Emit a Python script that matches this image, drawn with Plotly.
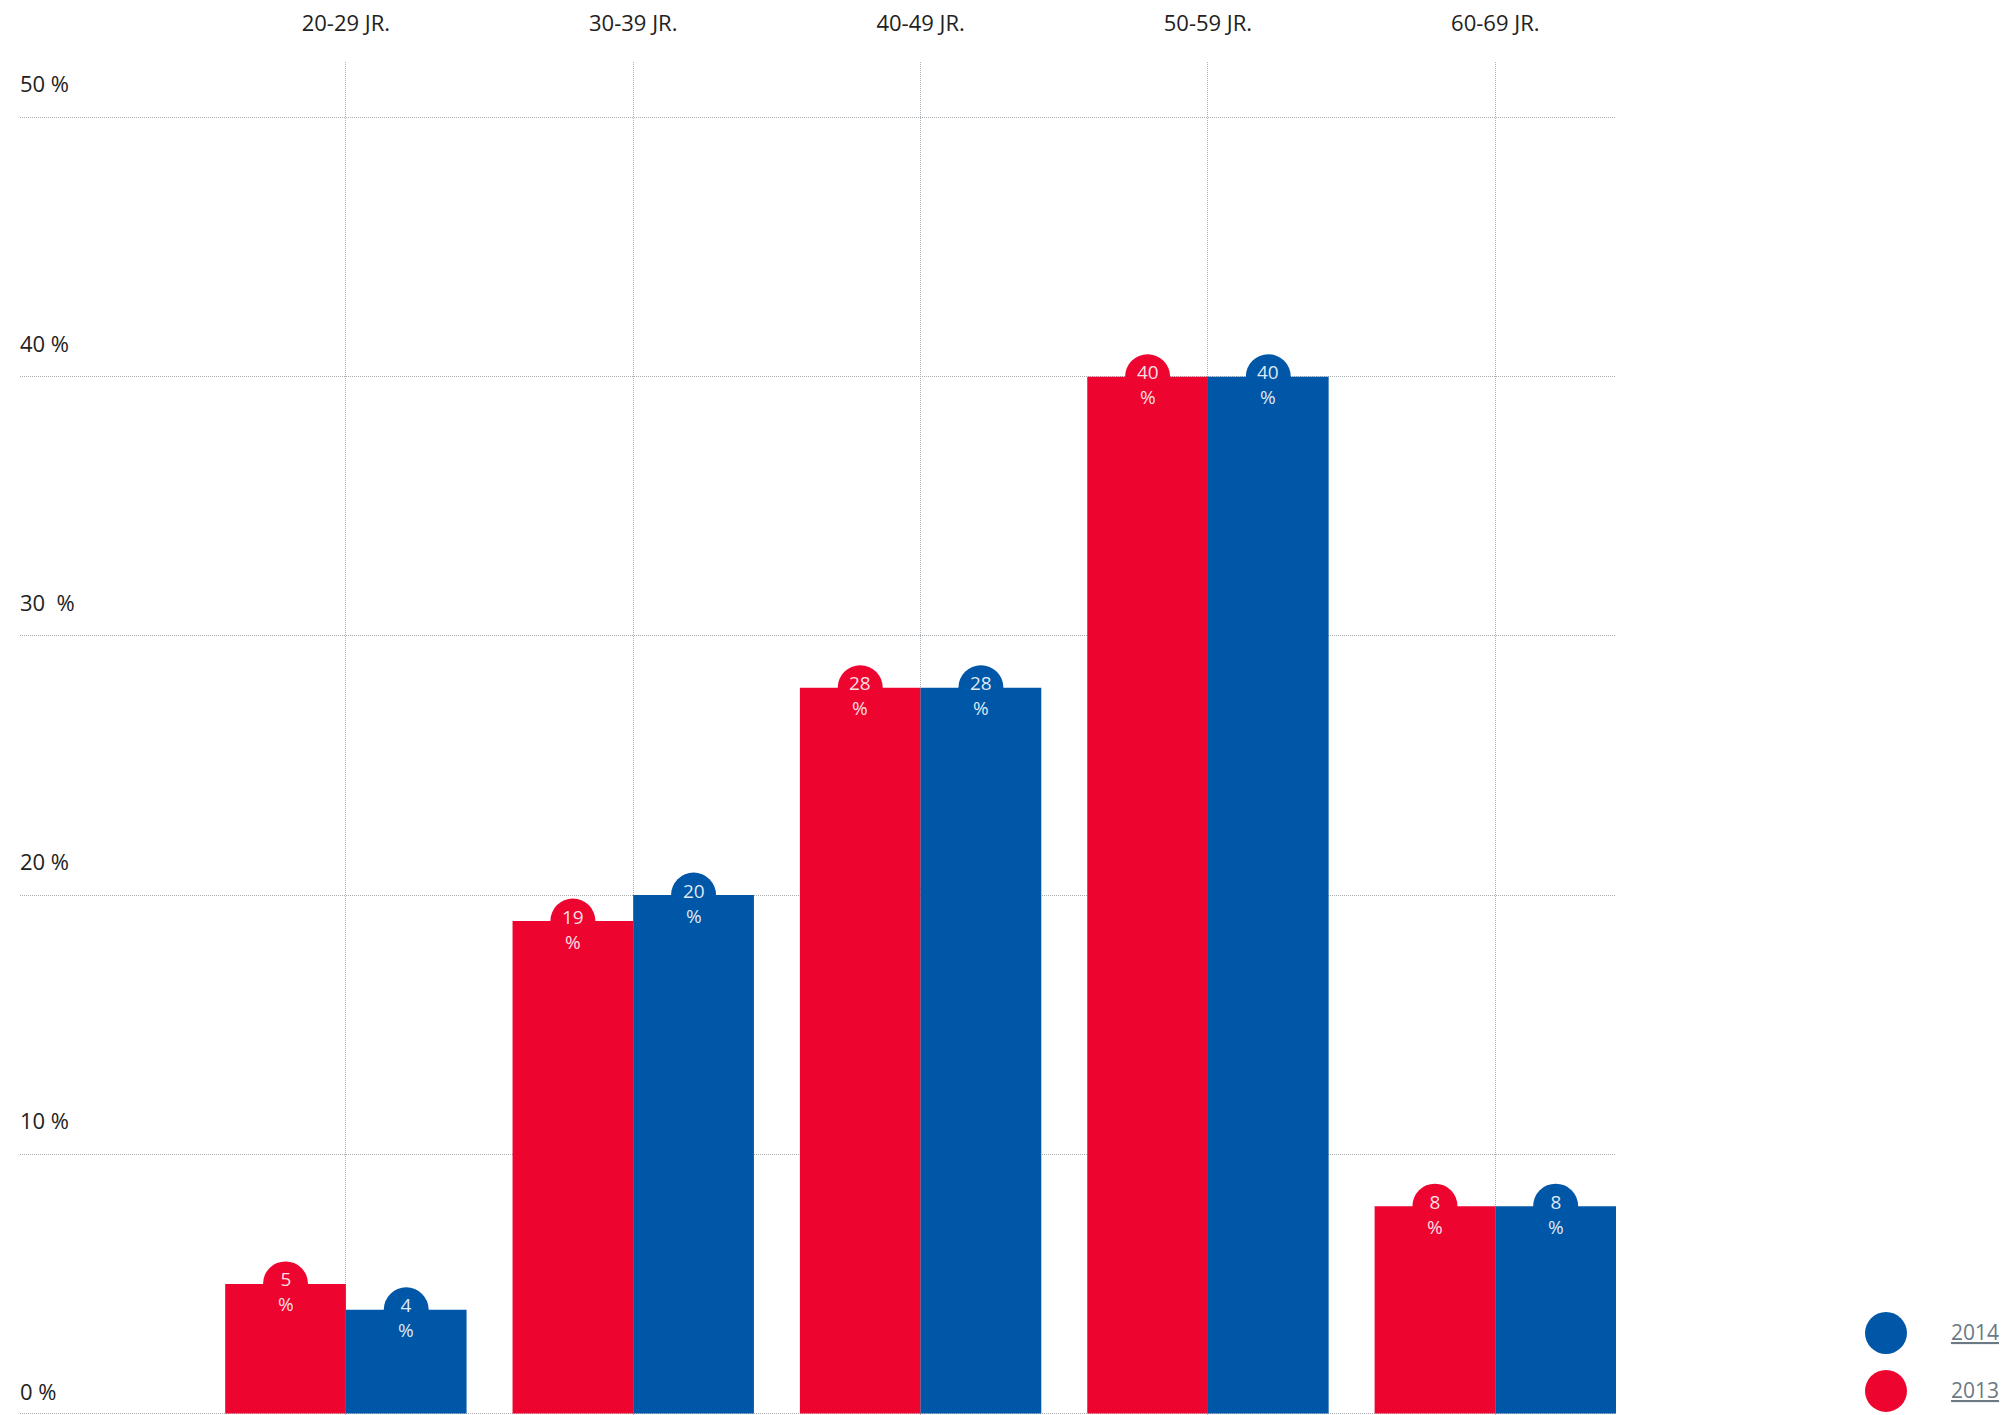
import plotly.graph_objects as go

# ---- data ----
categories = ["20-29 JR.", "30-39 JR.", "40-49 JR.", "50-59 JR.", "60-69 JR."]
values_2013 = [5, 19, 28, 40, 8]
values_2014 = [4, 20, 28, 40, 8]
series_names = ["2013", "2014"]
y_ticks = [0, 10, 20, 30, 40, 50]
y_tick_labels = ["0 %", "10 %", "20 %", "30\u00a0\u00a0%", "40 %", "50 %"]

RED = "#ED0530"
BLUE = "#0057A7"
FONT = "Open Sans"
BAR_W = 0.42
GRID = "#A9AEB3"

xpos = list(range(len(categories)))

fig = go.Figure()

series = [(series_names[0], values_2013, RED, -BAR_W), (series_names[1], values_2014, BLUE, 0.0)]
for name, vals, col, off in series:
    fig.add_trace(go.Bar(
        x=xpos, y=vals, name=name, width=BAR_W, offset=off,
        marker=dict(color=col, line=dict(width=0)),
        showlegend=False, hoverinfo="skip",
    ))

# bubbles at the top of every bar
for name, vals, col, off in series:
    cx = [x + off + BAR_W / 2 for x in xpos]
    fig.add_trace(go.Scatter(
        x=cx, y=vals, mode="markers",
        marker=dict(size=45, color=col, line=dict(width=0)),
        showlegend=False, hoverinfo="skip", cliponaxis=False,
    ))
    for x, v in zip(cx, vals):
        fig.add_annotation(
            x=x, y=v, xref="x", yref="y", text=f"{v}<br>%", showarrow=False,
            xanchor="center", yanchor="middle", yshift=-8,
            font=dict(family=FONT, size=19, color="rgba(255,255,255,0.88)"),
        )

# y-axis labels sitting above their gridlines
for t, lab in zip(y_ticks, y_tick_labels):
    fig.add_annotation(
        x=0, y=t, xref="paper", yref="y", text=lab, showarrow=False,
        xanchor="left", yanchor="middle", xshift=-2,
        yshift=23 if t == 0 else 34,
        font=dict(family=FONT, size=22, color="#222222"),
    )

# custom legend (large circles + underlined labels)
legend_items = [(series_names[1], BLUE, 0.0606), (series_names[0], RED, 0.0178)]
for name, col, yp in legend_items:
    fig.add_shape(
        type="circle", xref="paper", yref="paper", xsizemode="pixel", ysizemode="pixel",
        xanchor=(1886 - 20) / 1596, yanchor=yp, x0=-21, x1=21, y0=-21, y1=21,
        fillcolor=col, line=dict(width=0),
    )
    fig.add_annotation(
        x=(1951 - 20) / 1596, y=yp, xref="paper", yref="paper",
        text=f"<u>{name}</u>", showarrow=False, xanchor="left", yanchor="middle",
        xshift=-2, yshift=1, font=dict(family=FONT, size=21, color="#6B7984"),
    )

fig.update_layout(
    width=2015, height=1415,
    margin=dict(l=20, r=399, t=62, b=0),
    paper_bgcolor="white", plot_bgcolor="white",
    barmode="overlay", showlegend=False,
    font=dict(family=FONT, size=22, color="#222222"),
    xaxis=dict(
        range=[-1.134, 4.42], side="top",
        tickmode="array", tickvals=xpos, ticktext=categories,
        tickfont=dict(family=FONT, size=22, color="#222222"),
        showgrid=True, gridcolor=GRID, gridwidth=1, griddash="1px,1px",
        zeroline=False, showline=False, ticks="", ticklabelstandoff=26,
    ),
    yaxis=dict(
        range=[-0.058, 52.14],
        tickmode="array", tickvals=y_ticks, showticklabels=False,
        showgrid=True, gridcolor=GRID, gridwidth=1, griddash="1px,1px",
        zeroline=False, showline=False, ticks="",
    ),
)

fig.write_html("out.html")
